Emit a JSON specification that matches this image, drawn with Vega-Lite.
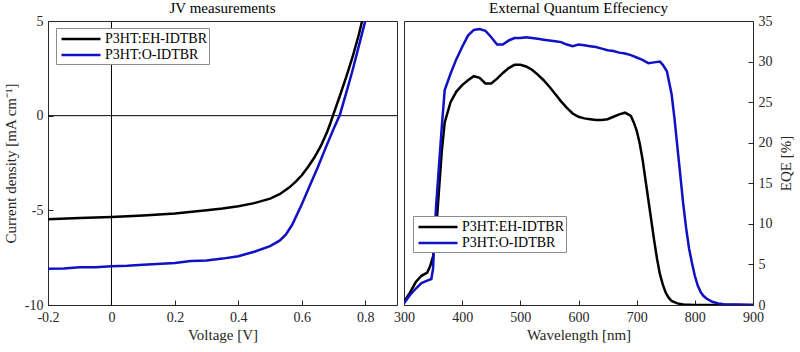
{
  "$schema": "https://vega.github.io/schema/vega-lite/v6.json",
  "background": "white",
  "padding": {"left": 2, "top": 0, "right": 0, "bottom": 0},
  "spacing": -5,
  "config": {
    "font": "Times New Roman",
    "view": {"stroke": "#262626", "strokeWidth": 1},
    "axis": {
      "domain": false,
      "grid": false,
      "labelFlush": false,
      "tickColor": "#262626",
      "tickSize": -5,
      "labelFont": "Times New Roman",
      "labelFontSize": 14,
      "labelColor": "#262626",
      "titleFont": "Times New Roman",
      "titleFontSize": 15,
      "titleFontWeight": "normal",
      "titleColor": "#262626",
      "labelPadding": 10
    },
    "title": {"font": "Times New Roman", "fontSize": 15, "fontWeight": "normal", "color": "#000", "offset": -2},
    "legend": {
      "orient": "none",
      "title": null,
      "strokeColor": "#8c8c8c",
      "fillColor": "white",
      "padding": 2,
      "symbolType": "M-2.6,0H2.6",
      "symbolSize": 225,
      "symbolOffset": 14,
      "symbolStrokeWidth": 2.5,
      "labelFont": "Times New Roman",
      "labelFontSize": 14,
      "labelColor": "#000",
      "rowPadding": 0,
      "labelOffset": 15
    }
  },
  "datasets": {
    "jv": [
      {"V": -0.2, "J": -5.47, "series": "P3HT:EH-IDTBR"},
      {"V": -0.1, "J": -5.41, "series": "P3HT:EH-IDTBR"},
      {"V": 0.0, "J": -5.35, "series": "P3HT:EH-IDTBR"},
      {"V": 0.1, "J": -5.27, "series": "P3HT:EH-IDTBR"},
      {"V": 0.2, "J": -5.17, "series": "P3HT:EH-IDTBR"},
      {"V": 0.3, "J": -5.0, "series": "P3HT:EH-IDTBR"},
      {"V": 0.35, "J": -4.9, "series": "P3HT:EH-IDTBR"},
      {"V": 0.4, "J": -4.78, "series": "P3HT:EH-IDTBR"},
      {"V": 0.45, "J": -4.62, "series": "P3HT:EH-IDTBR"},
      {"V": 0.5, "J": -4.38, "series": "P3HT:EH-IDTBR"},
      {"V": 0.53, "J": -4.15, "series": "P3HT:EH-IDTBR"},
      {"V": 0.56, "J": -3.8, "series": "P3HT:EH-IDTBR"},
      {"V": 0.58, "J": -3.5, "series": "P3HT:EH-IDTBR"},
      {"V": 0.6, "J": -3.15, "series": "P3HT:EH-IDTBR"},
      {"V": 0.62, "J": -2.7, "series": "P3HT:EH-IDTBR"},
      {"V": 0.64, "J": -2.2, "series": "P3HT:EH-IDTBR"},
      {"V": 0.66, "J": -1.6, "series": "P3HT:EH-IDTBR"},
      {"V": 0.68, "J": -0.85, "series": "P3HT:EH-IDTBR"},
      {"V": 0.69, "J": -0.4, "series": "P3HT:EH-IDTBR"},
      {"V": 0.7, "J": 0.1, "series": "P3HT:EH-IDTBR"},
      {"V": 0.72, "J": 1.05, "series": "P3HT:EH-IDTBR"},
      {"V": 0.74, "J": 2.05, "series": "P3HT:EH-IDTBR"},
      {"V": 0.76, "J": 3.1, "series": "P3HT:EH-IDTBR"},
      {"V": 0.78, "J": 4.3, "series": "P3HT:EH-IDTBR"},
      {"V": 0.79, "J": 5.0, "series": "P3HT:EH-IDTBR"},
      {"V": -0.2, "J": -8.09, "series": "P3HT:O-IDTBR"},
      {"V": -0.15, "J": -8.07, "series": "P3HT:O-IDTBR"},
      {"V": -0.1, "J": -8.0, "series": "P3HT:O-IDTBR"},
      {"V": -0.05, "J": -8.0, "series": "P3HT:O-IDTBR"},
      {"V": 0.0, "J": -7.95, "series": "P3HT:O-IDTBR"},
      {"V": 0.05, "J": -7.93, "series": "P3HT:O-IDTBR"},
      {"V": 0.1, "J": -7.88, "series": "P3HT:O-IDTBR"},
      {"V": 0.2, "J": -7.78, "series": "P3HT:O-IDTBR"},
      {"V": 0.25, "J": -7.68, "series": "P3HT:O-IDTBR"},
      {"V": 0.3, "J": -7.65, "series": "P3HT:O-IDTBR"},
      {"V": 0.35, "J": -7.55, "series": "P3HT:O-IDTBR"},
      {"V": 0.4, "J": -7.42, "series": "P3HT:O-IDTBR"},
      {"V": 0.45, "J": -7.19, "series": "P3HT:O-IDTBR"},
      {"V": 0.5, "J": -6.89, "series": "P3HT:O-IDTBR"},
      {"V": 0.53, "J": -6.6, "series": "P3HT:O-IDTBR"},
      {"V": 0.55, "J": -6.27, "series": "P3HT:O-IDTBR"},
      {"V": 0.57, "J": -5.75, "series": "P3HT:O-IDTBR"},
      {"V": 0.6, "J": -4.68, "series": "P3HT:O-IDTBR"},
      {"V": 0.625, "J": -3.7, "series": "P3HT:O-IDTBR"},
      {"V": 0.65, "J": -2.74, "series": "P3HT:O-IDTBR"},
      {"V": 0.675, "J": -1.7, "series": "P3HT:O-IDTBR"},
      {"V": 0.7, "J": -0.7, "series": "P3HT:O-IDTBR"},
      {"V": 0.72, "J": 0.05, "series": "P3HT:O-IDTBR"},
      {"V": 0.74, "J": 1.2, "series": "P3HT:O-IDTBR"},
      {"V": 0.76, "J": 2.4, "series": "P3HT:O-IDTBR"},
      {"V": 0.78, "J": 3.7, "series": "P3HT:O-IDTBR"},
      {"V": 0.8, "J": 5.0, "series": "P3HT:O-IDTBR"}
    ],
    "eqe": [
      {"wl": 300, "q": 0.4, "series": "P3HT:EH-IDTBR"},
      {"wl": 310, "q": 1.5, "series": "P3HT:EH-IDTBR"},
      {"wl": 320, "q": 2.8, "series": "P3HT:EH-IDTBR"},
      {"wl": 330, "q": 3.6, "series": "P3HT:EH-IDTBR"},
      {"wl": 340, "q": 4.0, "series": "P3HT:EH-IDTBR"},
      {"wl": 345, "q": 4.8, "series": "P3HT:EH-IDTBR"},
      {"wl": 350, "q": 6.0, "series": "P3HT:EH-IDTBR"},
      {"wl": 355, "q": 9.0, "series": "P3HT:EH-IDTBR"},
      {"wl": 360, "q": 14.0, "series": "P3HT:EH-IDTBR"},
      {"wl": 365, "q": 19.0, "series": "P3HT:EH-IDTBR"},
      {"wl": 370, "q": 22.5, "series": "P3HT:EH-IDTBR"},
      {"wl": 380, "q": 25.0, "series": "P3HT:EH-IDTBR"},
      {"wl": 390, "q": 26.3, "series": "P3HT:EH-IDTBR"},
      {"wl": 400, "q": 27.1, "series": "P3HT:EH-IDTBR"},
      {"wl": 410, "q": 27.7, "series": "P3HT:EH-IDTBR"},
      {"wl": 420, "q": 28.2, "series": "P3HT:EH-IDTBR"},
      {"wl": 430, "q": 28.0, "series": "P3HT:EH-IDTBR"},
      {"wl": 440, "q": 27.3, "series": "P3HT:EH-IDTBR"},
      {"wl": 450, "q": 27.3, "series": "P3HT:EH-IDTBR"},
      {"wl": 460, "q": 27.9, "series": "P3HT:EH-IDTBR"},
      {"wl": 470, "q": 28.6, "series": "P3HT:EH-IDTBR"},
      {"wl": 480, "q": 29.2, "series": "P3HT:EH-IDTBR"},
      {"wl": 490, "q": 29.6, "series": "P3HT:EH-IDTBR"},
      {"wl": 500, "q": 29.6, "series": "P3HT:EH-IDTBR"},
      {"wl": 510, "q": 29.4, "series": "P3HT:EH-IDTBR"},
      {"wl": 520, "q": 29.0, "series": "P3HT:EH-IDTBR"},
      {"wl": 530, "q": 28.4, "series": "P3HT:EH-IDTBR"},
      {"wl": 540, "q": 27.7, "series": "P3HT:EH-IDTBR"},
      {"wl": 550, "q": 26.9, "series": "P3HT:EH-IDTBR"},
      {"wl": 560, "q": 26.0, "series": "P3HT:EH-IDTBR"},
      {"wl": 570, "q": 25.1, "series": "P3HT:EH-IDTBR"},
      {"wl": 580, "q": 24.3, "series": "P3HT:EH-IDTBR"},
      {"wl": 590, "q": 23.6, "series": "P3HT:EH-IDTBR"},
      {"wl": 600, "q": 23.2, "series": "P3HT:EH-IDTBR"},
      {"wl": 610, "q": 23.0, "series": "P3HT:EH-IDTBR"},
      {"wl": 620, "q": 22.9, "series": "P3HT:EH-IDTBR"},
      {"wl": 630, "q": 22.8, "series": "P3HT:EH-IDTBR"},
      {"wl": 640, "q": 22.8, "series": "P3HT:EH-IDTBR"},
      {"wl": 650, "q": 22.9, "series": "P3HT:EH-IDTBR"},
      {"wl": 660, "q": 23.2, "series": "P3HT:EH-IDTBR"},
      {"wl": 670, "q": 23.5, "series": "P3HT:EH-IDTBR"},
      {"wl": 680, "q": 23.7, "series": "P3HT:EH-IDTBR"},
      {"wl": 690, "q": 23.3, "series": "P3HT:EH-IDTBR"},
      {"wl": 695, "q": 22.5, "series": "P3HT:EH-IDTBR"},
      {"wl": 700, "q": 21.5, "series": "P3HT:EH-IDTBR"},
      {"wl": 705, "q": 20.0, "series": "P3HT:EH-IDTBR"},
      {"wl": 710, "q": 18.0, "series": "P3HT:EH-IDTBR"},
      {"wl": 715, "q": 15.5, "series": "P3HT:EH-IDTBR"},
      {"wl": 720, "q": 13.0, "series": "P3HT:EH-IDTBR"},
      {"wl": 725, "q": 10.5, "series": "P3HT:EH-IDTBR"},
      {"wl": 730, "q": 8.0, "series": "P3HT:EH-IDTBR"},
      {"wl": 735, "q": 5.7, "series": "P3HT:EH-IDTBR"},
      {"wl": 740, "q": 3.8, "series": "P3HT:EH-IDTBR"},
      {"wl": 745, "q": 2.5, "series": "P3HT:EH-IDTBR"},
      {"wl": 750, "q": 1.5, "series": "P3HT:EH-IDTBR"},
      {"wl": 755, "q": 0.9, "series": "P3HT:EH-IDTBR"},
      {"wl": 760, "q": 0.5, "series": "P3HT:EH-IDTBR"},
      {"wl": 770, "q": 0.2, "series": "P3HT:EH-IDTBR"},
      {"wl": 780, "q": 0.05, "series": "P3HT:EH-IDTBR"},
      {"wl": 800, "q": 0.0, "series": "P3HT:EH-IDTBR"},
      {"wl": 900, "q": 0.0, "series": "P3HT:EH-IDTBR"},
      {"wl": 300, "q": 0.2, "series": "P3HT:O-IDTBR"},
      {"wl": 310, "q": 1.2, "series": "P3HT:O-IDTBR"},
      {"wl": 320, "q": 2.0, "series": "P3HT:O-IDTBR"},
      {"wl": 330, "q": 2.7, "series": "P3HT:O-IDTBR"},
      {"wl": 340, "q": 3.0, "series": "P3HT:O-IDTBR"},
      {"wl": 347, "q": 3.2, "series": "P3HT:O-IDTBR"},
      {"wl": 350, "q": 4.5, "series": "P3HT:O-IDTBR"},
      {"wl": 352, "q": 8.0, "series": "P3HT:O-IDTBR"},
      {"wl": 355, "q": 12.0, "series": "P3HT:O-IDTBR"},
      {"wl": 360, "q": 17.0, "series": "P3HT:O-IDTBR"},
      {"wl": 365, "q": 22.0, "series": "P3HT:O-IDTBR"},
      {"wl": 370, "q": 26.5, "series": "P3HT:O-IDTBR"},
      {"wl": 380, "q": 28.5, "series": "P3HT:O-IDTBR"},
      {"wl": 390, "q": 30.3, "series": "P3HT:O-IDTBR"},
      {"wl": 400, "q": 31.8, "series": "P3HT:O-IDTBR"},
      {"wl": 410, "q": 33.2, "series": "P3HT:O-IDTBR"},
      {"wl": 420, "q": 33.9, "series": "P3HT:O-IDTBR"},
      {"wl": 430, "q": 34.0, "series": "P3HT:O-IDTBR"},
      {"wl": 440, "q": 33.8, "series": "P3HT:O-IDTBR"},
      {"wl": 450, "q": 33.0, "series": "P3HT:O-IDTBR"},
      {"wl": 460, "q": 32.1, "series": "P3HT:O-IDTBR"},
      {"wl": 470, "q": 32.1, "series": "P3HT:O-IDTBR"},
      {"wl": 480, "q": 32.6, "series": "P3HT:O-IDTBR"},
      {"wl": 490, "q": 32.9, "series": "P3HT:O-IDTBR"},
      {"wl": 500, "q": 32.9, "series": "P3HT:O-IDTBR"},
      {"wl": 510, "q": 33.0, "series": "P3HT:O-IDTBR"},
      {"wl": 520, "q": 32.9, "series": "P3HT:O-IDTBR"},
      {"wl": 530, "q": 32.8, "series": "P3HT:O-IDTBR"},
      {"wl": 540, "q": 32.7, "series": "P3HT:O-IDTBR"},
      {"wl": 550, "q": 32.6, "series": "P3HT:O-IDTBR"},
      {"wl": 560, "q": 32.5, "series": "P3HT:O-IDTBR"},
      {"wl": 570, "q": 32.4, "series": "P3HT:O-IDTBR"},
      {"wl": 580, "q": 32.1, "series": "P3HT:O-IDTBR"},
      {"wl": 590, "q": 31.9, "series": "P3HT:O-IDTBR"},
      {"wl": 600, "q": 32.1, "series": "P3HT:O-IDTBR"},
      {"wl": 610, "q": 32.0, "series": "P3HT:O-IDTBR"},
      {"wl": 620, "q": 31.9, "series": "P3HT:O-IDTBR"},
      {"wl": 630, "q": 31.8, "series": "P3HT:O-IDTBR"},
      {"wl": 640, "q": 31.6, "series": "P3HT:O-IDTBR"},
      {"wl": 650, "q": 31.4, "series": "P3HT:O-IDTBR"},
      {"wl": 660, "q": 31.3, "series": "P3HT:O-IDTBR"},
      {"wl": 670, "q": 31.1, "series": "P3HT:O-IDTBR"},
      {"wl": 680, "q": 31.0, "series": "P3HT:O-IDTBR"},
      {"wl": 690, "q": 30.8, "series": "P3HT:O-IDTBR"},
      {"wl": 700, "q": 30.5, "series": "P3HT:O-IDTBR"},
      {"wl": 710, "q": 30.2, "series": "P3HT:O-IDTBR"},
      {"wl": 720, "q": 29.8, "series": "P3HT:O-IDTBR"},
      {"wl": 730, "q": 29.9, "series": "P3HT:O-IDTBR"},
      {"wl": 740, "q": 30.0, "series": "P3HT:O-IDTBR"},
      {"wl": 745, "q": 29.6, "series": "P3HT:O-IDTBR"},
      {"wl": 752, "q": 28.8, "series": "P3HT:O-IDTBR"},
      {"wl": 760, "q": 26.0, "series": "P3HT:O-IDTBR"},
      {"wl": 765, "q": 23.0, "series": "P3HT:O-IDTBR"},
      {"wl": 770, "q": 19.5, "series": "P3HT:O-IDTBR"},
      {"wl": 775, "q": 16.0, "series": "P3HT:O-IDTBR"},
      {"wl": 780, "q": 12.5, "series": "P3HT:O-IDTBR"},
      {"wl": 785, "q": 9.5, "series": "P3HT:O-IDTBR"},
      {"wl": 790, "q": 7.0, "series": "P3HT:O-IDTBR"},
      {"wl": 795, "q": 5.2, "series": "P3HT:O-IDTBR"},
      {"wl": 800, "q": 3.6, "series": "P3HT:O-IDTBR"},
      {"wl": 805, "q": 2.4, "series": "P3HT:O-IDTBR"},
      {"wl": 810, "q": 1.6, "series": "P3HT:O-IDTBR"},
      {"wl": 815, "q": 1.1, "series": "P3HT:O-IDTBR"},
      {"wl": 820, "q": 0.8, "series": "P3HT:O-IDTBR"},
      {"wl": 830, "q": 0.4, "series": "P3HT:O-IDTBR"},
      {"wl": 840, "q": 0.2, "series": "P3HT:O-IDTBR"},
      {"wl": 850, "q": 0.1, "series": "P3HT:O-IDTBR"},
      {"wl": 870, "q": 0.05, "series": "P3HT:O-IDTBR"},
      {"wl": 900, "q": 0.0, "series": "P3HT:O-IDTBR"}
    ],
    "zero": [{"v": 0}]
  },
  "resolve": {"scale": {"color": "independent"}, "legend": {"color": "independent"}},
  "hconcat": [
    {
      "width": 349,
      "height": 284,
      "title": {"text": "JV measurements"},
      "layer": [
        {
          "data": {"name": "zero"},
          "mark": {"type": "rule", "color": "#000", "strokeWidth": 1},
          "encoding": {"y": {"field": "v", "type": "quantitative", "scale": {"domain": [-10, 5]}}}
        },
        {
          "data": {"name": "zero"},
          "mark": {"type": "rule", "color": "#000", "strokeWidth": 1},
          "encoding": {"x": {"field": "v", "type": "quantitative", "scale": {"domain": [-0.2, 0.9]}}}
        },
        {
          "data": {"name": "jv"},
          "mark": {"type": "line", "strokeWidth": 2.5, "clip": true},
          "encoding": {
            "x": {"field": "V", "type": "quantitative", "scale": {"domain": [-0.2, 0.9], "nice": false},
                  "axis": {"title": "Voltage [V]", "values": [-0.2, 0, 0.2, 0.4, 0.6, 0.8],
                           "labelExpr": "replace(format(datum.value, ''), '\u2212', '-')", "titlePadding": 3}},
            "y": {"field": "J", "type": "quantitative", "scale": {"domain": [-10, 5], "nice": false},
                  "axis": {"title": "Current density [mA cm\u207b\u00b9]", "values": [-10, -5, 0, 5],
                           "labelExpr": "replace(format(datum.value, ''), '\u2212', '-')", "titlePadding": 6}},
            "color": {"field": "series", "type": "nominal",
                      "scale": {"domain": ["P3HT:EH-IDTBR", "P3HT:O-IDTBR"], "range": ["#000000", "#1010c4"]},
                      "legend": {"legendX": 8, "legendY": 7}}
          }
        }
      ]
    },
    {
      "width": 349,
      "height": 284,
      "title": {"text": "External Quantum Effeciency"},
      "data": {"name": "eqe"},
      "mark": {"type": "line", "strokeWidth": 2.5, "clip": true},
      "encoding": {
        "x": {"field": "wl", "type": "quantitative", "scale": {"domain": [300, 900], "nice": false},
              "axis": {"title": "Wavelength [nm]", "values": [300, 400, 500, 600, 700, 800, 900], "titlePadding": 3}},
        "y": {"field": "q", "type": "quantitative", "scale": {"domain": [0, 35], "nice": false},
              "axis": {"orient": "right", "title": "EQE [%]", "titleAngle": 270, "titleBaseline": "top", "values": [0, 5, 10, 15, 20, 25, 30, 35], "titlePadding": 6}},
        "color": {"field": "series", "type": "nominal",
                  "scale": {"domain": ["P3HT:EH-IDTBR", "P3HT:O-IDTBR"], "range": ["#000000", "#1010c4"]},
                  "legend": {"legendX": 9, "legendY": 195}}
      }
    }
  ]
}
